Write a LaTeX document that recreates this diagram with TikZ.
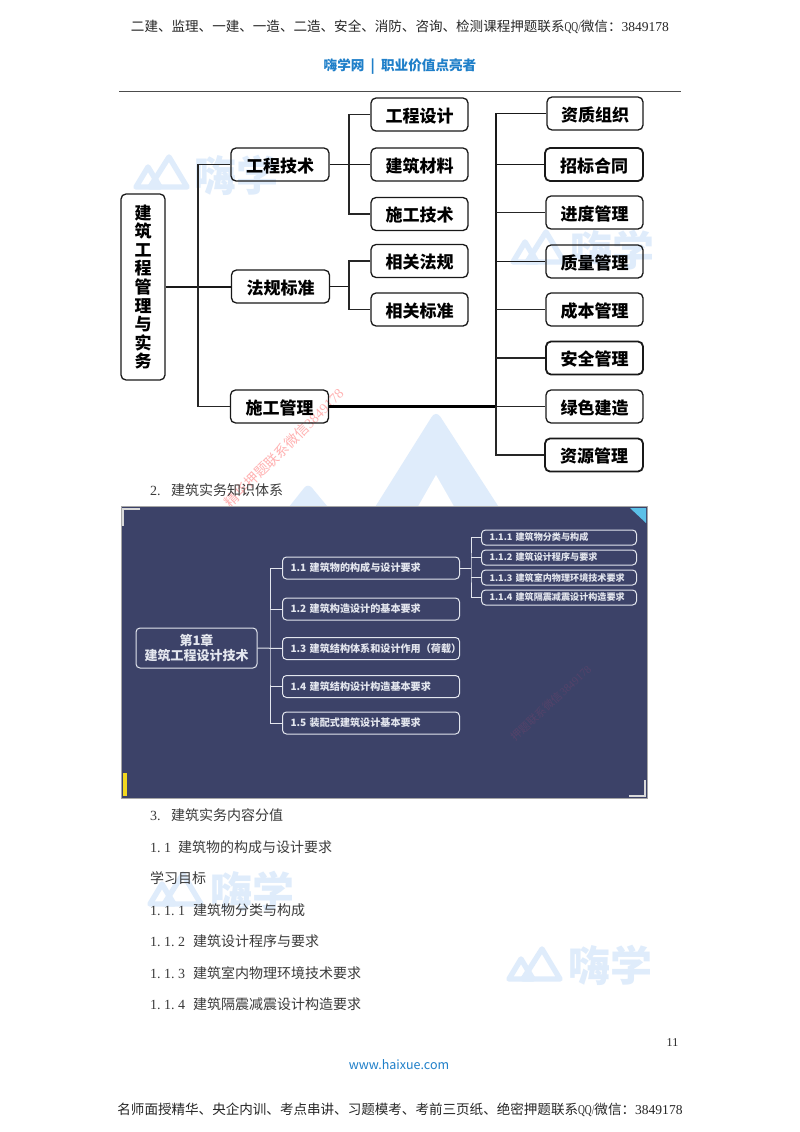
\documentclass[tikz,border=0pt]{standalone}
\usepackage{fontspec}
\setmainfont{Noto Sans CJK SC}
\newfontfamily\numf{Liberation Serif}
\newfontfamily\qqf[FakeStretch=0.7]{Liberation Serif}
\newcommand{\hm}[1]{{\numf #1}}
\newcommand{\qqs}{{\qqf QQ/}}
\definecolor{wm}{HTML}{DFECFB}
\definecolor{hblue}{HTML}{1F7FC9}
\definecolor{imgbg}{HTML}{3C4268}
\definecolor{imgfg}{HTML}{E3E6EE}
\definecolor{bodyc}{HTML}{3A3A3A}
\tikzset{
  wmline/.style={draw=wm,line width=5.4,line join=round,line cap=round},
  wmtext/.style={text=wm,font=\bfseries\fontsize{42}{42}\selectfont,inner sep=0},
  mapbox/.style={draw=black!90,line width=1.3,rounded corners=5,inner sep=0,text height=17,text depth=1.5,font=\bfseries\fontsize{17}{18}\selectfont},
  rootbox/.style={draw=black!90,line width=1.3,rounded corners=5,inner sep=0,font=\bfseries\fontsize{17}{18.6}\selectfont},
  heavybox/.style={mapbox,line width=1.8},
  link/.style={draw=black!85,line width=1.4},
  tlink/.style={draw=black!90,line width=1.8},
  hlink/.style={draw=black,line width=3},
  bodytext/.style={anchor=west,inner sep=0,text=bodyc,font=\fontsize{14}{16}\selectfont},
  hdtext/.style={inner sep=0,text=black!85,font=\fontsize{13.55}{15}\selectfont},
  darkbox/.style={draw=imgfg,line width=1,rounded corners=4,inner ysep=0,inner xsep=8,minimum height=22,text=imgfg,align=left,text width=161,font=\bfseries\fontsize{10.1}{12}\selectfont},
  smallbox/.style={draw=imgfg,line width=1,rounded corners=4,inner ysep=0,inner xsep=8,minimum height=15,text=imgfg,align=left,text width=139,font=\bfseries\fontsize{9.1}{11}\selectfont},
  darklink/.style={draw=imgfg,line width=1},
  corner/.style={draw=white!85!black,line width=1.2},
}
\newcommand{\wmlogo}[2]{%
  \begin{scope}[shift={(#1,#2)}]
    \draw[wmline] (3,33) -- (15,13) -- (27,33) -- cycle;
    \draw[wmline] (17,33) -- (36,3) -- (54,33) -- cycle;
  \end{scope}}
\newcommand{\bnum}[3]{\hm{#1.\hspace{3.5pt}#2.\hspace{3.5pt}#3}}
\begin{document}
\begin{tikzpicture}[x=1pt,y=-1pt]
\useasboundingbox (0,0) rectangle (800,1132);
\fill[white] (0,0) rectangle (800,1132);
% watermarks
\wmlogo{133}{154}
\node[wmtext,anchor=west] (w1) at (194,175) {嗨学};
\wmlogo{510}{229}
\node[wmtext,anchor=west] (w2) at (570,250) {嗨学};
\wmlogo{147}{871}
\node[wmtext,anchor=west] (w3) at (210,891) {嗨学};
\wmlogo{506}{946}
\node[wmtext,anchor=west] (w4) at (568,965) {嗨学};
\fill[wm,rounded corners=8] (436,410) -- (372,512) -- (502,512) -- cycle;
\fill[white] (436,475) -- (416,510) -- (456,510) -- cycle;
\fill[wm,rounded corners=6] (308,483) -- (285,512) -- (332,512) -- cycle;
% red watermark
\node[rotate=45,inner sep=0,text=red!30,font=\fontsize{14}{16}\selectfont] (rw) at (284,448) {精华押题联系微信\hm{3849178}};
% header
\node[hdtext] (head) at (400,26.5) {二建、监理、一建、一造、二造、安全、消防、咨询、检测课程押题联系\qqs 微信：\hm{3849178}};
\node[inner sep=0,text=hblue,font=\bfseries\fontsize{13.6}{15}\selectfont] (sub) at (400,66.5) {嗨学网 \ | \ 职业价值点亮者};
\coordinate (ra) at (119,91); \coordinate (rb) at (681,91);
\draw[black!70,line width=1] (ra) -- (rb);
% top map nodes
\node[rootbox,minimum width=44,minimum height=186,align=center] (root) at (143,287) {建\\筑\\工\\程\\管\\理\\与\\实\\务};
\node[mapbox,minimum width=98,minimum height=33] (gc) at (280,164.5) {工程技术};
\node[mapbox,minimum width=98,minimum height=33] (fg) at (280.5,286.5) {法规标准};
\node[mapbox,minimum width=98,minimum height=33] (sg) at (279.5,406.5) {施工管理};
\node[mapbox,minimum width=97,minimum height=33] (a1) at (419.5,114.5) {工程设计};
\node[mapbox,minimum width=97,minimum height=33] (a2) at (419.5,164.5) {建筑材料};
\node[mapbox,minimum width=97,minimum height=33] (a3) at (419.5,214) {施工技术};
\node[mapbox,minimum width=97,minimum height=33] (b1) at (419.5,261) {相关法规};
\node[mapbox,minimum width=97,minimum height=33] (b2) at (419.5,309.5) {相关标准};
\node[mapbox,minimum width=96,minimum height=33] (r1) at (595,113.5) {资质组织};
\node[heavybox,minimum width=98,minimum height=33] (r2) at (594,164.5) {招标合同};
\node[mapbox,minimum width=97,minimum height=33] (r3) at (594.5,212.5) {进度管理};
\node[mapbox,minimum width=97,minimum height=33] (r4) at (594.5,261.5) {质量管理};
\node[mapbox,minimum width=97,minimum height=33] (r5) at (594.5,309.5) {成本管理};
\node[heavybox,minimum width=97,minimum height=33] (r6) at (594.5,358) {安全管理};
\node[mapbox,minimum width=97,minimum height=33] (r7) at (594.5,406.5) {绿色建造};
\node[heavybox,minimum width=98,minimum height=33] (r8) at (594,455) {资源管理};
% connectors
\coordinate (t1) at (198,287);
\coordinate (t2) at (349,164.5);
\coordinate (t3) at (349,286.5);
\coordinate (t4) at (496,406.5);
\draw[tlink] (root.east |- t1) -- (t1 -| fg.west);
\draw[link] (gc.west) -| (t1) |- (sg.west);
\draw[tlink] (gc.east) -- (a2.west);
\draw[link] (a1.west) -| (t2) |- (a3.west);
\draw[tlink] (fg.east) -- (t3);
\draw[link] (b1.west) -| (t3) |- (b2.west);
\draw[hlink] (sg.east) -- (t4);
\draw[tlink] (r1.west) -| (t4);
\draw[link] (t4) |- (r8.west);
\draw[tlink] (t4 |- r2.west) -- (r2.west);
\draw[link] (t4 |- r3.west) -- (r3.west);
\draw[tlink] (t4 |- r4.west) -- (r4.west);
\draw[link] (t4 |- r5.west) -- (r5.west);
\draw[link] (t4 |- r6.west) -- (r6.west);
\draw[link] (t4) -- (r7.west);
% body
\node[bodytext] (s2) at (150,490) {\hm{2.}\hspace{10.5pt}建筑实务知识体系};
% image
\fill[imgbg] (121,506) rectangle (647,798);
\draw[black!35,line width=.6] (121,506) rectangle (647,798);
\coordinate (c1) at (140,509); \coordinate (c2) at (123,509); \coordinate (c3) at (123,526);
\draw[corner] (c1) -- (c2) -- (c3);
\coordinate (c4) at (629,796); \coordinate (c5) at (645,796); \coordinate (c6) at (645,780);
\draw[corner] (c4) -- (c5) -- (c6);
\definecolor{triblue}{HTML}{5BC0E8}
\definecolor{baryel}{HTML}{F2D81E}
\definecolor{smudge}{HTML}{54426A}
\fill[triblue] (630,508) -- (646,508) -- (646,523) -- cycle;
\fill[baryel] (123,773) rectangle (127,796);
% red mark in image
\node[rotate=43,inner sep=0,text=smudge,font=\fontsize{11}{13}\selectfont] (rw2) at (551,703) {押题联系微信\hm{3849178}};
% image map
\node[draw=imgfg,line width=1,rounded corners=4,minimum width=121,minimum height=40,inner sep=0,align=center,text=imgfg,font=\bfseries\fontsize{13}{14.5}\selectfont] (ch) at (196.5,648) {第1章\\建筑工程设计技术};
\node[darkbox] (d1) at (371,568) {1.1 建筑物的构成与设计要求};
\node[darkbox] (d2) at (371,609) {1.2 建筑构造设计的基本要求};
\node[darkbox] (d3) at (371,648.5) {\mbox{1.3 建筑结构体系和设计作用（荷载）}};
\node[darkbox] (d4) at (371,686.5) {1.4 建筑结构设计构造基本要求};
\node[darkbox] (d5) at (371,723) {1.5 装配式建筑设计基本要求};
\node[smallbox] (e1) at (559,537.5) {1.1.1 建筑物分类与构成};
\node[smallbox] (e2) at (559,557.5) {1.1.2 建筑设计程序与要求};
\node[smallbox] (e3) at (559,577.5) {1.1.3 建筑室内物理环境技术要求};
\node[smallbox] (e4) at (559,597.5) {1.1.4 建筑隔震减震设计构造要求};
\coordinate (t5) at (270,648);
\coordinate (t6) at (471,568);
\draw[darklink] (ch.east) -- (d3.west);
\draw[darklink] (d1.west) -| (t5) |- (d5.west);
\draw[darklink] (t5 |- d2.west) -- (d2.west);
\draw[darklink] (t5 |- d4.west) -- (d4.west);
\draw[darklink] (d1.east) -- (t6);
\draw[darklink] (e1.west) -| (t6) |- (e4.west);
\draw[darklink] (t6 |- e2.west) -- (e2.west);
\draw[darklink] (t6 |- e3.west) -- (e3.west);
% body text
\node[bodytext] (s3) at (150,815) {\hm{3.}\hspace{10.5pt}建筑实务内容分值};
\node[bodytext] (s4) at (150,847) {\hm{1.\hspace{3.5pt}1}\hspace{7pt}建筑物的构成与设计要求};
\node[bodytext] (s5) at (150,878) {学习目标};
\node[bodytext] (s6) at (150,910) {\bnum{1}{1}{1}\hspace{8pt}建筑物分类与构成};
\node[bodytext] (s7) at (150,941) {\bnum{1}{1}{2}\hspace{8pt}建筑设计程序与要求};
\node[bodytext] (s8) at (150,973) {\bnum{1}{1}{3}\hspace{8pt}建筑室内物理环境技术要求};
\node[bodytext] (s9) at (150,1004) {\bnum{1}{1}{4}\hspace{8pt}建筑隔震减震设计构造要求};
% footer
\node[inner sep=0,text=black!85,font=\fontsize{12}{13}\selectfont] (pg) at (672.5,1043) {\hm{11}};
\node[inner sep=0,text=hblue,font=\fontsize{12.5}{15}\selectfont] (web) at (399,1065) {www.haixue.com};
\node[hdtext] (foot) at (400,1109.5) {名师面授精华、央企内训、考点串讲、习题模考、考前三页纸、绝密押题联系\qqs 微信：\hm{3849178}};
\end{tikzpicture}
\end{document}
